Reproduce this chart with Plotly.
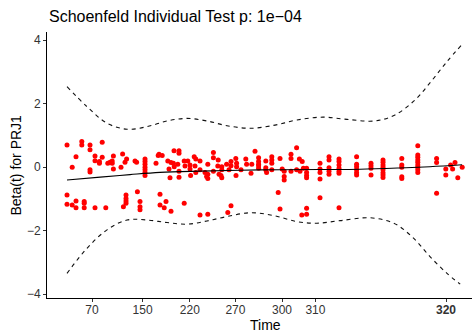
import plotly.graph_objects as go

# transformed time of each tied-time stack of Schoenfeld residuals
stack_time = [0, 1.3, 2.25, 3.7, 4.3, 5.75, 7, 8.1, 8.8, 9.7, 10.2, 10.75, 11.3, 11.6,
              13.5, 13.9, 14.1, 14.5, 14.75, 14.9, 17, 17.4, 17.6, 18.25, 19.5, 22.25,
              22.8, 23, 23.25, 23.8, 24.3, 24.75, 25.2, 25.5, 25.75, 26, 26.6, 26.75,
              26.8, 27.7, 28, 29.3, 29.5, 30.2, 30.75, 30.9, 31.8, 32, 32.2, 33.25,
              34.5, 34.9, 35.2, 36.6, 37.7, 37.8, 38, 38.5, 38.7, 39.9, 40.2, 40.5, 41,
              42.2, 42.25, 42.4, 43.5, 44.7, 44.9, 46, 46.2, 47, 47.9, 49.7, 49.9, 51.2,
              52.8, 53.25, 53.8, 54.3, 56, 57.4, 58.1, 58.25, 58.7, 58.8, 59.1, 59.9,
              63.25, 65.5, 68, 72.4, 76, 79, 83.7, 87.7, 92.4, 94.7, 95.9, 96.4, 97,
              97.7, 98.8]
stack_beta = [
    [0.69, -0.88, -1.17], [-0.01, -1.2], [0.32, -1.07, -1.28], [0.80, 0.69],
    [-1.09, -1.14, -1.28], [0.69, 0.54, -0.09, -0.16], [0.35, 0.20, -1.28],
    [0.17, 0.12], [0.78, 0.31], [-1.28], [0.12], [0.15], [0.19, 0.12], [0.35, -0.06],
    [-0.01], [0.41], [-1.25], [0.15], [-0.88, -0.99, -1.07, -1.14], [0.25], [0.19],
    [0.15], [-0.78], [-1.09, -1.25, -1.35], [0.25, 0.17, 0.09, -0.01, -0.09, -0.17, -0.27],
    [0.12], [0.36], [0.40], [-0.86, -1.2], [0.36], [-1.28], [-1.09], [0.19], [-0.06],
    [-0.34], [0.14, -1.39], [0.12], [0.51], [0.01], [0.09], [0.51, 0.43, -0.13, -0.32],
    [0.19, -1.14], [0.03], [0.19], [0.06, -0.06], [-0.27], [0.32], [0.03], [0.25, -0.17],
    [0.19, -0.09, -1.51], [-0.17], [-0.30], [0.09, -0.23, -0.36, -1.49], [0.46, 0.29, -0.13],
    [0.03], [0.22], [-0.23], [-0.27], [0.01, -0.09, -0.34], [0.09], [-1.43], [-0.09],
    [0.17, 0.04, -1.22], [0.27], [-0.27], [0.12, 0.01], [-0.09], [0.25], [0.09], [-0.20],
    [0.09], [0.50], [0.29, 0.17, 0.09, 0.04, -0.04], [0.19, -0.02, -0.09], [-0.17],
    [0.32, 0.22, 0.12, -0.09], [-0.80], [0.27, -1.32], [-0.06], [-0.13, -0.30, -0.41],
    [0.40, 0.27, -0.13], [0.61, -0.09], [0.25], [-0.13], [-1.51], [0.17], [-0.04],
    [-0.04, -0.17, -0.27, -0.34, -1.30, -1.49], [0.12, -0.06, -0.17, -0.38, -0.97],
    [0.32, 0.22, -0.02, -0.13, -0.23], [0.25, 0.17, 0.06, -0.04, -0.13, -0.20, -1.28],
    [0.32, 0.09, 0.01, -0.09, -0.18, -0.25], [0.12, 0.04, -0.04, -0.25],
    [0.22, 0.15, 0.06, -0.01, -0.09, -0.18, -0.25, -0.33], [0.27, 0.06, -0.01, -0.31, -0.36],
    [0.67, 0.38, 0.31, 0.22, 0.15, 0.06, -0.01, -0.09, -0.17], [0.27, 0.14, -0.83],
    [-0.06, -0.25], [0.06], [-0.06], [0.14], [-0.34], [-0.01]]

# smoothed beta(t)
fit_time = [0, 8.3, 15.75, 23.25, 33.25, 48.25, 63.25, 73.25, 83.25, 90.75, 98.75]
fit_beta = [-0.41, -0.32, -0.24, -0.17, -0.13, -0.09, -0.08, -0.07, -0.03, 0.01, 0.07]

# confidence band
upper_time = [0, 5, 10, 15, 20, 25, 30, 35, 40, 46, 52, 57.5, 64, 70, 77, 82, 87, 91, 95, 98.75]
upper_beta = [2.53, 1.90, 1.38, 1.19, 1.27, 1.45, 1.53, 1.45, 1.30, 1.22, 1.32, 1.48, 1.57,
              1.50, 1.45, 1.64, 2.11, 2.69, 3.32, 3.86]
lower_time = [0, 5, 10, 15, 20, 25, 30, 35, 40, 46, 52, 57.5, 62.5, 68.3, 75.8, 81.7, 86.7,
              90.8, 95, 98.3]
lower_beta = [-3.35, -2.56, -1.98, -1.67, -1.67, -1.75, -1.80, -1.70, -1.56, -1.44, -1.54,
              -1.72, -1.77, -1.69, -1.60, -1.77, -2.25, -2.83, -3.35, -3.69]

tick_pos = [6.25, 18.9, 30.7, 42.1, 53.75, 62.1, 94.75]
tick_text = ["70", "150", "220", "270", "300", "310", "<b>320</b>"]

resid_time = []
resid_beta = []
for t, ys in zip(stack_time, stack_beta):
    for y in ys:
        resid_time.append(t)
        resid_beta.append(y)

FONT = "Liberation Sans, Arial, Helvetica, sans-serif"

fig = go.Figure()
fig.add_trace(go.Scatter(x=resid_time, y=resid_beta, mode="markers",
                         marker=dict(color="#FF0000", size=5, line=dict(width=0)),
                         hoverinfo="skip"))
fig.add_trace(go.Scatter(x=fit_time, y=fit_beta, mode="lines", line_shape="spline",
                         line=dict(color="black", width=1.1)))
fig.add_trace(go.Scatter(x=upper_time, y=upper_beta, mode="lines", line_shape="spline",
                         line=dict(color="#111111", width=1.1, dash="4px,4px")))
fig.add_trace(go.Scatter(x=lower_time, y=lower_beta, mode="lines", line_shape="spline",
                         line=dict(color="#111111", width=1.1, dash="4px,4px")))

fig.update_layout(
    width=472, height=334,
    margin=dict(l=47, r=0, t=32, b=36),
    paper_bgcolor="white", plot_bgcolor="white",
    showlegend=False,
    font=dict(family=FONT, color="black"),
    xaxis=dict(range=[-5, 101.25], tickmode="array", tickvals=tick_pos, ticktext=tick_text,
               showgrid=False, zeroline=False, showline=True, linecolor="black", linewidth=1,
               ticks="outside", ticklen=3, tickcolor="#333333", tickwidth=1,
               ticklabelstandoff=-2,
               tickfont=dict(size=12, color="#333333", family=FONT)),
    yaxis=dict(range=[-4.126, 4.252], tickmode="array", tickvals=[-4, -2, 0, 2, 4],
               showgrid=False, zeroline=False, showline=True, linecolor="black", linewidth=1,
               ticks="outside", ticklen=3, tickcolor="#333333", tickwidth=1,
               tickfont=dict(size=12, color="#333333", family=FONT)),
    annotations=[
        dict(text="Schoenfeld Individual Test p: 1e\u221204", xref="paper", yref="paper",
             x=0.0, y=(298 - 16) / 266, xanchor="left", yanchor="middle", showarrow=False,
             font=dict(size=16, color="black", family=FONT)),
        dict(text="Time", xref="paper", yref="paper", x=(265 - 47) / 425,
             y=(298 - 324.5) / 266, xanchor="center", yanchor="middle", showarrow=False,
             font=dict(size=14, color="black", family=FONT)),
        dict(text="Beta(t) for PRJ1", xref="paper", yref="paper", x=(15 - 47) / 425,
             y=(298 - 165.5) / 266, xanchor="center", yanchor="middle", showarrow=False,
             textangle=-90, font=dict(size=14, color="black", family=FONT)),
    ],
)

fig.write_html("out.html")
